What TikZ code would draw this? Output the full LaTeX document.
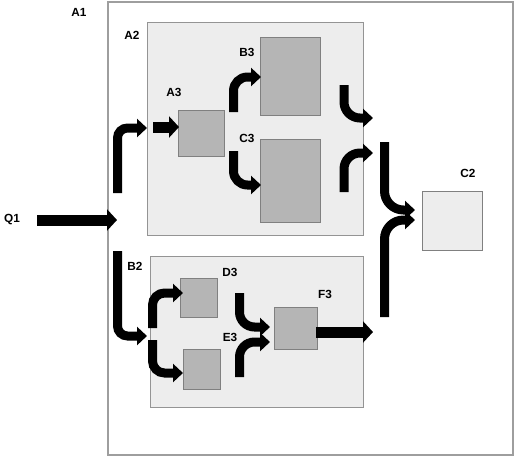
\documentclass[tikz,border=0pt]{standalone}
\usepackage{fontspec}
\setmainfont{Liberation Sans}
\usetikzlibrary{arrows.meta}
\begin{document}
\begin{tikzpicture}[x=1pt,y=-1pt,
  lbl/.style={font=\bfseries\fontsize{11.8}{13}\selectfont, inner sep=0pt},
  outerbox/.style={draw=black!38, line width=1.3pt, fill=white, inner sep=0pt},
  groupbox/.style={draw=black!42, line width=1pt, fill=black!7, inner sep=0pt},
  unitbox/.style={draw=black!50, line width=0.9pt, fill=black!29, inner sep=0pt},
  lightbox/.style={draw=black!50, line width=0.9pt, fill=black!7, inner sep=0pt},
  straightarr/.style={line width=11pt, -{Triangle[length=10pt,width=21pt]}},
  bendarr/.style={line width=9pt, rounded corners=#1, -{Triangle[length=10pt,width=18pt]}},
  bendarr/.default=15pt,
]
\useasboundingbox (0,0) rectangle (514,456);
% boxes
\node[outerbox, minimum width=405pt, minimum height=453pt] (A1) at (310.5,228.5) {};
\node[groupbox, minimum width=216pt, minimum height=213pt] (A2) at (255,128.5) {};
\node[groupbox, minimum width=213pt, minimum height=151pt] (B2) at (256.5,331.5) {};
\node[unitbox, minimum width=46pt, minimum height=46pt] (A3) at (201,133) {};
\node[unitbox, minimum width=60pt, minimum height=78pt] (B3) at (290,76) {};
\node[unitbox, minimum width=60pt, minimum height=83pt] (C3) at (290,180.5) {};
\node[lightbox, minimum width=60pt, minimum height=59pt] (C2) at (452,220.5) {};
\node[unitbox, minimum width=37pt, minimum height=39pt] (D3) at (198.5,297.5) {};
\node[unitbox, minimum width=37pt, minimum height=40pt] (E3) at (201.5,369) {};
\node[unitbox, minimum width=43pt, minimum height=42pt] (F3) at (295.5,328) {};
% labels
\node[lbl] (lA1) at (79,12) {A1};
\node[lbl] (lA2) at (132,35) {A2};
\node[lbl] (lA3) at (174,92) {A3};
\node[lbl] (lB3) at (247,52) {B3};
\node[lbl] (lC3) at (247,138) {C3};
\node[lbl] (lC2) at (468,173) {C2};
\node[lbl] (lB2) at (135,266) {B2};
\node[lbl] (lD3) at (230,272) {D3};
\node[lbl] (lE3) at (230,337) {E3};
\node[lbl] (lF3) at (325,294) {F3};
\node[lbl] (lQ1) at (12,220) {Q1};
% arrow end points
\coordinate (q1s) at (37,220);   \coordinate (q1e) at (117,220);
\coordinate (a2s) at (117.5,193); \coordinate (a2e) at (147,128);
\coordinate (a3s) at (153,127);  \coordinate (a3e) at (179,127);
\coordinate (b3s) at (233.5,112); \coordinate (b3e) at (261,77);
\coordinate (c3s) at (233.5,151); \coordinate (c3e) at (261,185);
\coordinate (b3os) at (344,85);  \coordinate (b3oe) at (373,118);
\coordinate (c3os) at (344,192); \coordinate (c3oe) at (373,153);
\coordinate (c2us) at (384.5,142); \coordinate (c2ue) at (415,210);
\coordinate (c2ls) at (384.5,317); \coordinate (c2le) at (415,220);
\coordinate (b2s) at (117.5,251); \coordinate (b2e) at (147,336);
\coordinate (d3s) at (152.5,328); \coordinate (d3e) at (183,293);
\coordinate (e3s) at (152.5,340); \coordinate (e3e) at (183,373);
\coordinate (df3s) at (239.5,293); \coordinate (df3e) at (270,327);
\coordinate (ef3s) at (239.5,377); \coordinate (ef3e) at (270,342);
\coordinate (f3os) at (316,332); \coordinate (f3oe) at (373,332);
% arrows
\draw[straightarr] (q1s) -- (q1e);
\draw[bendarr=10pt] (a2s) |- (a2e);
\draw[straightarr] (a3s) -- (a3e);
\draw[bendarr=14pt] (b3s) |- (b3e);
\draw[bendarr=14pt] (c3s) |- (c3e);
\draw[bendarr=16pt] (b3os) |- (b3oe);
\draw[bendarr=16pt] (c3os) |- (c3oe);
\draw[bendarr=19pt] (c2us) |- (c2ue);
\draw[bendarr=19pt] (c2ls) |- (c2le);
\draw[bendarr=10pt] (b2s) |- (b2e);
\draw[bendarr=12pt] (d3s) |- (d3e);
\draw[bendarr=12pt] (e3s) |- (e3e);
\draw[bendarr=15pt] (df3s) |- (df3e);
\draw[bendarr=15pt] (ef3s) |- (ef3e);
\draw[straightarr] (f3os) -- (f3oe);
\end{tikzpicture}
\end{document}
